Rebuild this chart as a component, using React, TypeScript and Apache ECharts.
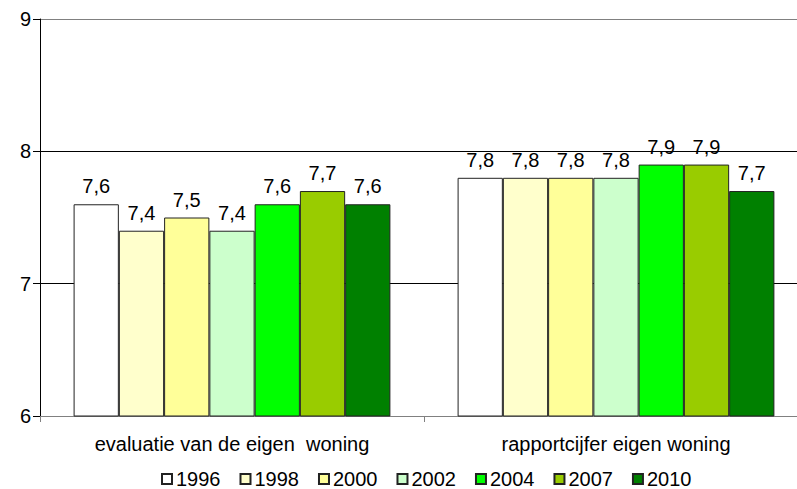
import React, { useEffect, useRef } from "react";
import * as echarts from "echarts";

const categories = ["evaluatie van de eigen  woning", "rapportcijfer eigen woning"];
const years = ["1996", "1998", "2000", "2002", "2004", "2007", "2010"];
const values1996 = [7.6, 7.8];
const values1998 = [7.4, 7.8];
const values2000 = [7.5, 7.8];
const values2002 = [7.4, 7.8];
const values2004 = [7.6, 7.9];
const values2007 = [7.7, 7.9];
const values2010 = [7.6, 7.7];
const seriesValues = [values1996, values1998, values2000, values2002, values2004, values2007, values2010];
const colors = ["#FFFFFF", "#FFFFCC", "#FFFF99", "#CCFFCC", "#00FF00", "#99CC00", "#008000"];

const FONT = "'Liberation Sans', Arial, sans-serif";

export default function App() {
  const ref = useRef<HTMLDivElement>(null);
  useEffect(() => {
    if (!ref.current) return;
    const chart = echarts.init(ref.current, null, { renderer: "svg" });
    chart.setOption({
      animation: false,
      backgroundColor: "#ffffff",
      textStyle: { fontFamily: FONT },
      grid: { left: 40, top: 19, width: 768, height: 397, outerBoundsMode: "none", containLabel: false },
      legend: {
        data: years,
        top: 469,
        left: 161,
        padding: 0,
        itemWidth: 10,
        itemHeight: 10,
        itemGap: 19,
        icon: "rect",
        textStyle: { fontSize: 20, lineHeight: 20, color: "#000", fontFamily: FONT, padding: [0, 0, 0, -1] },
      },
      xAxis: {
        type: "category",
        data: categories,
        axisLine: { lineStyle: { color: "#808080", width: 1 } },
        axisTick: { show: true, length: 6, lineStyle: { color: "#808080" } },
        axisLabel: { fontSize: 20, color: "#000", margin: 18, fontFamily: FONT },
      },
      yAxis: {
        type: "value",
        min: 6,
        max: 9,
        interval: 1,
        axisLine: { show: true, lineStyle: { color: "#000" } },
        axisTick: { show: true, length: 7, lineStyle: { color: "#000" } },
        axisLabel: { fontSize: 20, color: "#000", margin: 9, fontFamily: FONT },
        splitLine: { show: true, lineStyle: { color: ["#808080", "#000", "#000", "#808080"], width: 1 } },
      },
      series: years.map((y, i) => ({
        name: y,
        type: "bar",
        data: seriesValues[i],
        barGap: "0%",
        barCategoryGap: "17.5%",
        itemStyle: { color: colors[i], borderColor: "#222", borderWidth: 1 },
        label: {
          show: true,
          position: "top",
          distance: 8,
          fontSize: 20,
          color: "#000",
          fontFamily: FONT,
          formatter: (p: any) => String(p.value.toFixed(1)).replace(".", ","),
        },
      })),
    });
    return () => chart.dispose();
  }, []);
  return <div ref={ref} style={{ width: 797, height: 489, position: "absolute", left: 0, top: 0 }} />;
}
